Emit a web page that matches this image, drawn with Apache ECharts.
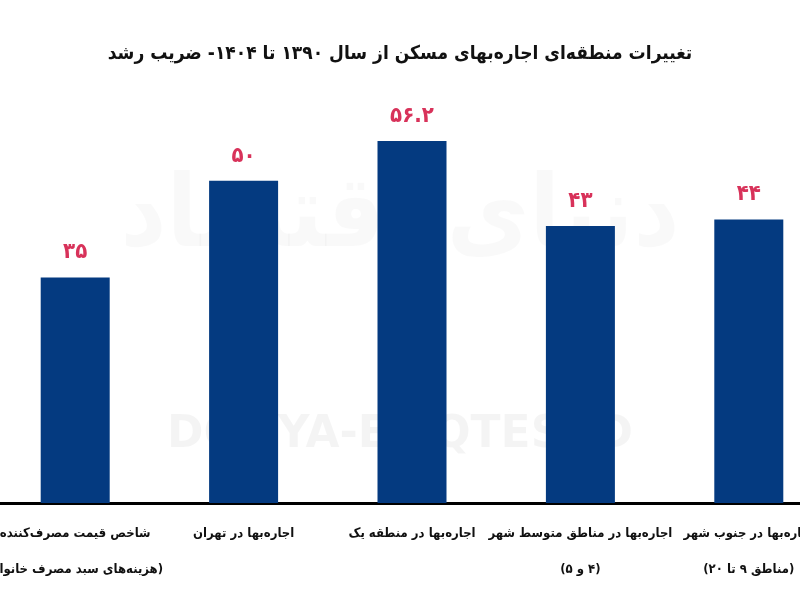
<!DOCTYPE html>
<html>
<head>
<meta charset="utf-8">
<script src="https://cdn.jsdelivr.net/npm/echarts@6/dist/echarts.min.js"></script>
<style>
html,body{margin:0;padding:0;background:#fff;}
#chart{width:800px;height:600px;}
</style>
</head>
<body>
<div id="chart" dir="rtl"></div>
<script>
const titleText = 'تغییرات منطقه‌ای اجاره‌بهای مسکن از سال ۱۳۹۰ تا ۱۴۰۴- ضریب رشد';
const categories = [
  'شاخص قیمت مصرف‌کننده\n(هزینه‌های سبد مصرف خانوار)',
  'اجاره‌بها در تهران',
  'اجاره‌بها در منطقه یک',
  'اجاره‌بها در مناطق متوسط شهر\n(۴ و ۵)',
  'اجاره‌بها در جنوب شهر\n(مناطق ۹ تا ۲۰)'
];
const values = [35, 50, 56.2, 43, 44];

const faDigits = '۰۱۲۳۴۵۶۷۸۹';
function toFa(v) {
  return String(v).replace(/[0-9]/g, d => faDigits[+d]);
}

const FONT = '"DejaVu Sans Condensed", "DejaVu Sans"';
const chart = echarts.init(document.getElementById('chart'));
chart.setOption({
  backgroundColor: '#ffffff',
  animation: false,
  title: {
    text: titleText,
    left: 'center',
    top: 40,
    textStyle: { fontFamily: FONT, fontWeight: 'bold', fontSize: 19, color: '#111' }
  },
  graphic: [
    {
      type: 'text', left: 'center', top: 170, silent: true, z: -1,
      style: { text: 'دنیای اقتصاد', fill: 'rgba(0,0,0,0.025)', font: 'bold 100px "DejaVu Sans Condensed"' }
    },
    {
      type: 'text', left: 'center', top: 414, silent: true, z: -1,
      style: { text: 'DONYA-E EQTESAD', fill: 'rgba(0,0,0,0.045)', font: 'bold 44px "DejaVu Sans"' }
    }
  ],
  grid: { left: -9, right: -33, top: 52, bottom: 97, containLabel: false, outerBoundsMode: 'none' },
  xAxis: {
    type: 'category',
    data: categories,
    axisLine: { show: true, lineStyle: { color: '#000', width: 3 } },
    axisTick: { show: false },
    axisLabel: {
      interval: 0,
      margin: 13,
      hideOverlap: false,
      fontFamily: FONT,
      fontWeight: 'bold',
      fontSize: 13,
      lineHeight: 36,
      color: '#111'
    }
  },
  yAxis: {
    type: 'value', min: 0, max: 70,
    show: false,
    splitLine: { show: false }
  },
  series: [{
    type: 'bar',
    data: values,
    barWidth: 69,
    itemStyle: { color: '#043a80' },
    label: {
      show: true,
      position: 'top',
      distance: 14,
      formatter: p => toFa(p.value),
      fontFamily: FONT,
      fontWeight: 'bold',
      fontSize: 22,
      color: '#d8325a'
    }
  }]
});
</script>
</body>
</html>
